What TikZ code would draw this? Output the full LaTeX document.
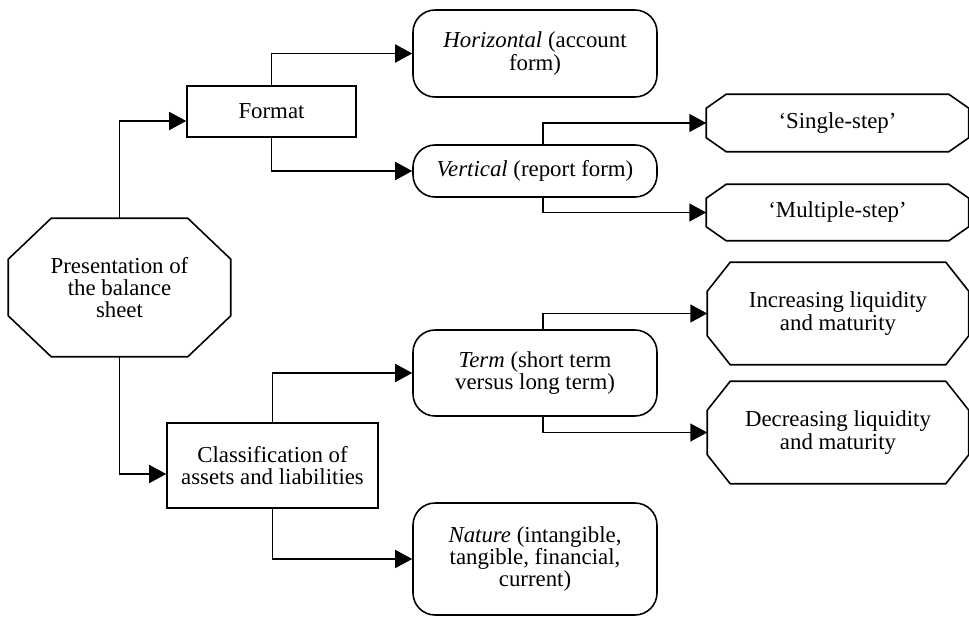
\documentclass[tikz,border=0pt]{standalone}
\usepackage{fontspec}
\setmainfont{Liberation Serif}
\usetikzlibrary{arrows.meta}

% octagonal frame round a (borderless) node
\newcommand{\octframe}[3]{%
  \draw ([xshift=#2]#1.north west) -- ([xshift=-#2]#1.north east)
     -- ([yshift=-#3]#1.north east) -- ([yshift=#3]#1.south east)
     -- ([xshift=-#2]#1.south east) -- ([xshift=#2]#1.south west)
     -- ([yshift=#3]#1.south west) -- ([yshift=-#3]#1.north west) -- cycle;}

\begin{document}
\begin{tikzpicture}[x=0.02cm, y=-0.02cm, line width=0.9pt,
    every node/.style={align=center, inner sep=0pt,
      font=\fontsize{13pt}{12.6pt}\selectfont},
    sqbox/.style={draw, minimum width=#1},
    rndbox/.style={draw, rounded corners=0.44cm, minimum width=#1},
    octbox/.style={minimum width=#1},
    link/.style={-{Triangle[length=0.34cm, width=0.36cm]}}]
    \useasboundingbox (0,0) rectangle (969,618);

    % root
    \node[octbox=4.42cm, minimum height=2.74cm] (pres) at (119.5,287.5)
        {Presentation of\\the balance\\sheet};
    \octframe{pres}{0.86cm}{0.82cm}

    % upper branch: format
    \node[sqbox=3.38cm, minimum height=1.02cm] (format) at (271.5,111.5) {Format};
    \node[rndbox=4.88cm, minimum height=1.74cm] (horiz) at (535,53.5)
        {\textit{Horizontal} (account\\form)};
    \node[rndbox=4.88cm, minimum height=1.04cm] (vert) at (535,171)
        {\textit{Vertical} (report form)};
    \node[octbox=5.22cm, minimum height=1.12cm] (single) at (837.5,123) {‘Single-step’};
    \octframe{single}{0.4cm}{0.28cm}
    \node[octbox=5.22cm, minimum height=1.1cm] (multi) at (837.5,212.5) {‘Multiple-step’};
    \octframe{multi}{0.4cm}{0.28cm}

    % lower branch: classification
    \node[sqbox=4.22cm, minimum height=1.7cm] (class) at (272.5,465.5)
        {Classification of\\assets and liabilities};
    \node[rndbox=4.88cm, minimum height=1.72cm] (term) at (535,373)
        {\textit{Term} (short term\\versus long term)};
    \node[rndbox=4.88cm, minimum height=2.24cm] (nature) at (535,559)
        {\textit{Nature} (intangible,\\tangible, financial,\\current)};
    \node[octbox=5.2cm, minimum height=2.02cm] (incr) at (838,313.5)
        {Increasing liquidity\\and maturity};
    \octframe{incr}{0.46cm}{0.58cm}
    \node[octbox=5.2cm, minimum height=2.02cm] (decr) at (838,432.5)
        {Decreasing liquidity\\and maturity};
    \octframe{decr}{0.46cm}{0.58cm}

    % connectors
    \draw[link] (pres.north) |- ([yshift=-0.19cm]format.west);
    \draw[link] (pres.south) |- ([yshift=-0.17cm]class.west);
    \draw[link] (format.north) |- (horiz.west);
    \draw[link] (format.south) |- (vert.west);
    \draw[link] ([xshift=0.16cm]vert.north) |- (single.west);
    \draw[link] ([xshift=0.16cm]vert.south) |- (multi.west);
    \draw[link] (class.north) |- (term.west);
    \draw[link] (class.south) |- (nature.west);
    \draw[link] ([xshift=0.16cm]term.north) |- (incr.west);
    \draw[link] ([xshift=0.16cm]term.south) |- (decr.west);
\end{tikzpicture}
\end{document}
